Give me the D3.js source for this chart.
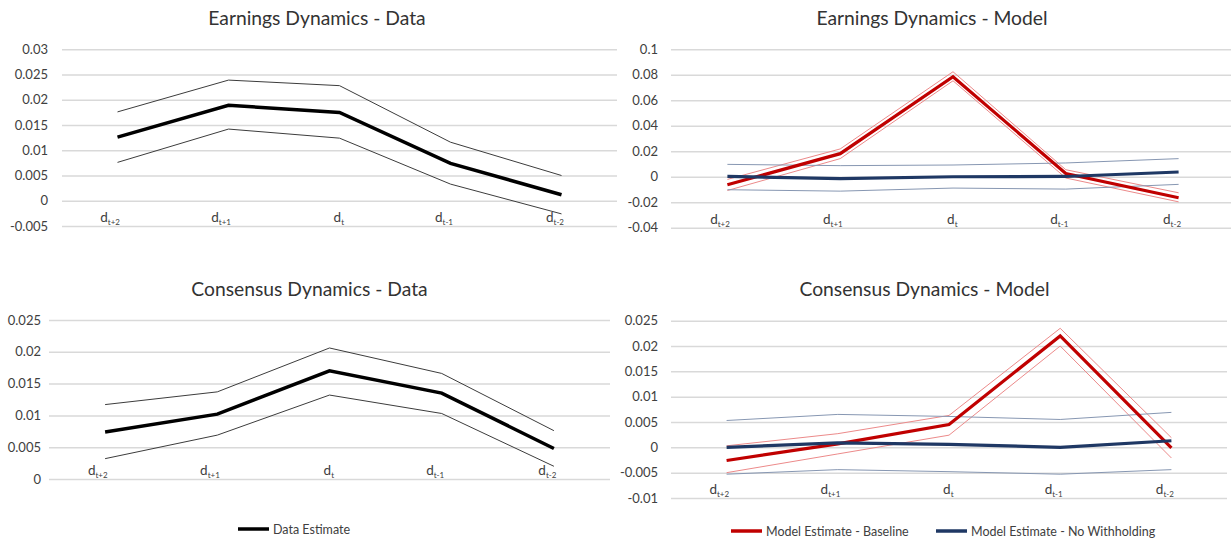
<!DOCTYPE html>
<html>
<head>
<meta charset="utf-8">
<script src="https://cdn.jsdelivr.net/npm/d3@7"></script>
<style>
  html, body { margin: 0; padding: 0; background: #ffffff; }
  svg { display: block; font-family: Lato, "Open Sans", sans-serif; }
</style>
</head>
<body>
<svg id="chart" width="1231" height="542"></svg>
<script>
// Event-time categories (subscripts of d)
const categories = ["t+2", "t+1", "t", "t-1", "t-2"];

// Earnings dynamics – data estimate with confidence bounds
const earnDataMid = [0.0126, 0.0189, 0.0175, 0.0074, 0.0012];
const earnDataHi  = [0.0176, 0.0239, 0.0228, 0.0116, 0.0050];
const earnDataLo  = [0.0076, 0.0142, 0.0124, 0.0033, -0.0026];

// Earnings dynamics – model estimates
const earnBase    = [-0.0063, 0.0181, 0.0785, 0.0025, -0.0165];
const earnBaseHi  = [-0.0021, 0.0218, 0.0824, 0.0055, -0.0126];
const earnBaseLo  = [-0.0108, 0.0142, 0.0753, -0.0010, -0.0197];
const earnNoWh    = [0.0002, -0.0015, 0.0000, 0.0002, 0.0037];
const earnNoWhHi  = [0.0097, 0.0087, 0.0092, 0.0108, 0.0142];
const earnNoWhLo  = [-0.0102, -0.0113, -0.0089, -0.0097, -0.0060];

// Consensus dynamics – data estimate with confidence bounds
const consDataMid = [0.0074, 0.0102, 0.0170, 0.0135, 0.0048];
const consDataHi  = [0.0117, 0.0137, 0.0206, 0.0166, 0.0076];
const consDataLo  = [0.0032, 0.0069, 0.0132, 0.0103, 0.0020];

// Consensus dynamics – model estimates
const consBase    = [-0.0026, 0.0007, 0.0045, 0.0220, -0.0001];
const consBaseHi  = [0.0003, 0.0027, 0.0063, 0.0235, 0.0019];
const consBaseLo  = [-0.0050, -0.0013, 0.0024, 0.0200, -0.0021];
const consNoWh    = [0.0000, 0.0009, 0.0006, 0.0000, 0.0013];
const consNoWhHi  = [0.0053, 0.0065, 0.0061, 0.0055, 0.0069];
const consNoWhLo  = [-0.0053, -0.0044, -0.0048, -0.0053, -0.0044];

// Axis ticks per panel
const ticksEarnData  = [-0.005, 0, 0.005, 0.01, 0.015, 0.02, 0.025, 0.03];
const ticksEarnModel = [-0.04, -0.02, 0, 0.02, 0.04, 0.06, 0.08, 0.1];
const ticksConsData  = [0, 0.005, 0.01, 0.015, 0.02, 0.025];
const ticksConsModel = [-0.01, -0.005, 0, 0.005, 0.01, 0.015, 0.02, 0.025];

// Titles and legend labels
const titles = ["Earnings Dynamics - Data", "Earnings Dynamics - Model",
                "Consensus Dynamics - Data", "Consensus Dynamics - Model"];
const legendData  = ["Data Estimate"];
const legendModel = ["Model Estimate - Baseline", "Model Estimate - No Withholding"];

const COL = {
  grid: "#d9d9d9",
  text: "#404040",
  title: "#333333",
  black: "#000000",
  blackThin: "#3c3c3c",
  red: "#c00000",
  redThin: "#ec8a8a",
  blue: "#1f3864",
  blueThin: "#8797b2"
};

const svg = d3.select("#chart");

function panel(cfg) {
  const g = svg.append("g");
  const x = d3.scalePoint().domain(categories).range([cfg.x0, cfg.x1]).padding(0.5);
  const y = d3.scaleLinear().domain(cfg.domain).range([cfg.yBottom, cfg.yTop]);

  // horizontal gridlines + value labels
  const yAxis = d3.axisLeft(y)
    .tickValues(cfg.ticks)
    .tickSize(-(cfg.x1 - cfg.x0))
    .tickPadding(cfg.labelPad)
    .tickFormat(d => String(+d.toFixed(4)));
  const ya = g.append("g").attr("transform", `translate(${cfg.x0},0)`).call(yAxis);
  ya.select(".domain").remove();
  ya.selectAll(".tick line").attr("stroke", COL.grid).attr("stroke-width", 1.5);
  ya.selectAll(".tick text")
    .attr("fill", COL.text)
    .style("font-size", "13px")
    .style("font-family", "Lato, sans-serif");

  // category labels d with subscripts, sitting at the bottom of the plot
  const xAxis = d3.axisBottom(x).tickSize(0).tickFormat("");
  const xa = g.append("g").attr("transform", `translate(0,${cfg.yBottom - 4})`).call(xAxis);
  xa.select(".domain").remove();
  xa.selectAll(".tick text").each(function (d) {
    const t = d3.select(this)
      .attr("y", 0).attr("dy", 0)
      .attr("text-anchor", "end")
      .attr("x", d === "t" ? 4 : 2)
      .attr("fill", COL.text)
      .style("font-family", "Lato, sans-serif");
    t.append("tspan").text("d").style("font-size", "13.5px");
    t.append("tspan").text(d).attr("dy", 3).style("font-size", "8px");
  });

  // title
  g.append("text")
    .attr("x", cfg.titleX).attr("y", cfg.titleY)
    .attr("text-anchor", "middle")
    .attr("fill", COL.title)
    .style("font-size", "19.3px")
    .text(cfg.title);

  const line = d3.line().x((d, i) => x(categories[i])).y(d => y(d));
  cfg.series.forEach(s => {
    g.append("path")
      .datum(s.values)
      .attr("d", line)
      .attr("fill", "none")
      .attr("stroke", s.color)
      .attr("stroke-width", s.width)
      .attr("stroke-linejoin", "miter");
  });
}

panel({
  title: titles[0], titleX: 317, titleY: 25,
  x0: 62, x1: 617, yTop: 49.3, yBottom: 226, domain: [-0.005, 0.03],
  ticks: ticksEarnData, labelPad: 14,
  series: [
    { values: earnDataHi, color: COL.blackThin, width: 1 },
    { values: earnDataLo, color: COL.blackThin, width: 1 },
    { values: earnDataMid, color: COL.black, width: 3.5 }
  ]
});

panel({
  title: titles[1], titleX: 932, titleY: 25,
  x0: 671, x1: 1235, yTop: 49.3, yBottom: 227.7, domain: [-0.04, 0.1],
  ticks: ticksEarnModel, labelPad: 13,
  series: [
    { values: earnBaseHi, color: COL.redThin, width: 1 },
    { values: earnBaseLo, color: COL.redThin, width: 1 },
    { values: earnNoWhHi, color: COL.blueThin, width: 1 },
    { values: earnNoWhLo, color: COL.blueThin, width: 1 },
    { values: earnBase, color: COL.red, width: 3.2 },
    { values: earnNoWh, color: COL.blue, width: 3.2 }
  ]
});

panel({
  title: titles[2], titleX: 309.5, titleY: 296,
  x0: 49, x1: 610, yTop: 320, yBottom: 479, domain: [0, 0.025],
  ticks: ticksConsData, labelPad: 8,
  series: [
    { values: consDataHi, color: COL.blackThin, width: 1 },
    { values: consDataLo, color: COL.blackThin, width: 1 },
    { values: consDataMid, color: COL.black, width: 3.5 }
  ]
});

panel({
  title: titles[3], titleX: 924.5, titleY: 296,
  x0: 671, x1: 1227, yTop: 320.7, yBottom: 498, domain: [-0.01, 0.025],
  ticks: ticksConsModel, labelPad: 13,
  series: [
    { values: consBaseHi, color: COL.redThin, width: 1 },
    { values: consBaseLo, color: COL.redThin, width: 1 },
    { values: consNoWhHi, color: COL.blueThin, width: 1 },
    { values: consNoWhLo, color: COL.blueThin, width: 1 },
    { values: consBase, color: COL.red, width: 3.2 },
    { values: consNoWh, color: COL.blue, width: 3.2 }
  ]
});

// legends
function legendItem(x, y, color, label) {
  svg.append("line")
    .attr("x1", x).attr("x2", x + 31).attr("y1", y).attr("y2", y)
    .attr("stroke", color).attr("stroke-width", 3.5);
  svg.append("text")
    .attr("x", x + 35).attr("y", y + 4.5)
    .attr("fill", COL.text)
    .style("font-size", "12.5px")
    .text(label);
}
legendItem(238, 529, COL.black, legendData[0]);
legendItem(731, 531, COL.red, legendModel[0]);
legendItem(936, 531, COL.blue, legendModel[1]);
</script>
</body>
</html>
